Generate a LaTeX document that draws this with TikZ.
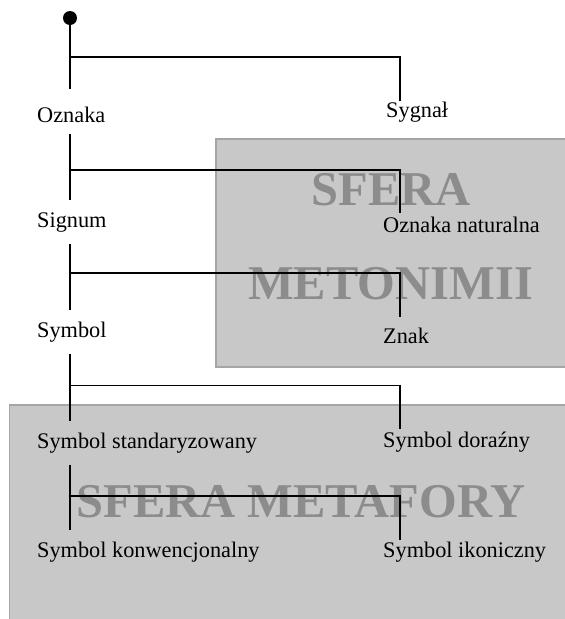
\documentclass[tikz,border=0pt]{standalone}
\usepackage{fontspec}
\setmainfont{Liberation Serif}
\definecolor{boxfill}{HTML}{C8C8C8}
\definecolor{boxline}{HTML}{A6A6A6}
\definecolor{watermark}{HTML}{8C8C8C}
\tikzset{
  sphere/.style={fill=boxfill, draw=boxline, line width=1.5pt},
  bigword/.style={text=watermark, font=\fontsize{48.5}{50}\selectfont\bfseries, inner sep=0pt, anchor=base},
  term/.style={font=\fontsize{22.3}{26}\selectfont, inner sep=0pt, anchor=base west, text height=27pt, text depth=17pt},
  link/.style={line width=1.6pt, black},
}
\begin{document}
\begin{tikzpicture}[x=1pt,y=-1pt]
\useasboundingbox (0,0) rectangle (565,619);

% the two spheres
\draw[sphere] (216,139) rectangle (585,367);
\draw[sphere] (9.5,405) rectangle (585,640);
\node[bigword] (w1) at (391,205) {SFERA};
\node[bigword] (w2) at (390.5,299) {METONIMII};
\node[bigword] (w3) at (301,517) {SFERA METAFORY};

% root of the tree
\node[circle, fill=black, inner sep=0pt, minimum size=14pt] (root) at (70,18) {};

% left column (main line)
\node[term, text height=33pt, text depth=12pt] (oz) at (37,122) {Oznaka};
\node[term] (sig) at (37,227) {Signum};
\node[term] (sym) at (37,337) {Symbol};
\node[term] (sst) at (37,448) {Symbol standaryzowany};
\node[term] (skw) at (37,557) {Symbol konwencjonalny};

% right column (side branches)
\node[term] (syg) at (386,117) {Sygnał};
\node[term] (onat) at (383,232) {Oznaka naturalna};
\node[term] (znak) at (383,343) {Znak};
\node[term] (sdo) at (383,447) {Symbol doraźny};
\node[term] (sik) at (383,557) {Symbol ikoniczny};

% branch points on the main line and ends of the side branches
\coordinate (j1) at (70,57);    \coordinate (t1) at (400,101);
\coordinate (j2) at (70,170);   \coordinate (t2) at (400,213);
\coordinate (j3) at (70,273);   \coordinate (t3) at (400,317);
\coordinate (j4) at (70,385.5); \coordinate (t4) at (400,429);
\coordinate (j5) at (70,496);   \coordinate (t5) at (400,540);

% main line segments
\draw[link] (root.center) -- (root |- oz.north);
\draw[link] (root |- oz.south) -- (root |- sig.north);
\draw[link] (root |- sig.south) -- (root |- sym.north);
\draw[link] (root |- sym.south) -- (root |- sst.north);
\draw[link] (root |- sst.south) -- (root |- skw.north);

% side branches
\draw[link] (j1) -| (t1);
\draw[link] (j2) -| (t2);
\draw[link] (j3) -| (t3);
\draw[link] (j4) -| (t4);
\draw[link] (j5) -| (t5);
\end{tikzpicture}
\end{document}
